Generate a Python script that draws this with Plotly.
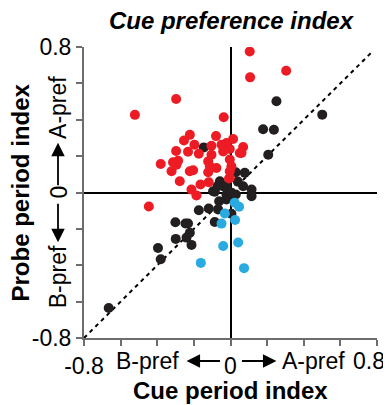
import plotly.graph_objects as go

red_x = [-0.522, -0.297, -0.037, -0.222, -0.254, -0.079, 0.014, -0.197, -0.297, -0.232, -0.173, -0.104, -0.049, -0.022, -0.004, -0.040, -0.104, -0.381, -0.314, -0.286, -0.295, -0.322, -0.222, -0.204, -0.122, -0.113, -0.077, -0.122, -0.004, 0.005, -0.004, -0.004, -0.277, -0.164, -0.119, -0.213, -0.186, 0.051, -0.446, 0.105, 0.107, 0.304, 0.069, 0.060, -0.008]
red_y = [0.427, 0.514, 0.414, 0.317, 0.286, 0.310, 0.294, 0.263, 0.228, 0.224, 0.213, 0.257, 0.263, 0.272, 0.239, 0.226, 0.208, 0.157, 0.166, 0.175, 0.153, 0.117, 0.117, 0.122, 0.171, 0.144, 0.135, 0.111, 0.181, 0.144, 0.117, 0.080, 0.062, 0.044, 0.056, 0.016, -0.016, 0.217, -0.077, 0.775, 0.633, 0.669, 0.250, 0.217, 0.077]

black_x = [0.251, 0.501, 0.178, 0.237, 0.206, 0.078, 0.029, 0.069, 0.115, 0.115, 0.029, -0.040, -0.146, -0.058, -0.022, -0.086, -0.095, -0.022, -0.062, -0.022, 0.014, -0.119, -0.173, -0.068, 0.005, -0.086, -0.301, -0.246, -0.232, -0.222, -0.240, -0.299, -0.213, -0.396, -0.381, -0.665, 0.000, 0.040, -0.070]
black_y = [0.502, 0.428, 0.348, 0.345, 0.208, 0.108, 0.111, 0.034, 0.016, -0.020, -0.011, 0.034, 0.248, 0.062, 0.034, 0.004, 0.007, -0.011, -0.048, -0.038, -0.020, -0.088, -0.098, -0.093, -0.117, -0.162, -0.164, -0.170, -0.170, -0.221, -0.248, -0.255, -0.288, -0.305, -0.367, -0.635, 0.000, 0.060, 0.035]

blue_x = [0.023, 0.047, -0.031, 0.025, -0.049, 0.042, -0.040, 0.074, -0.162]
blue_y = [-0.056, -0.078, -0.115, -0.151, -0.171, -0.275, -0.294, -0.416, -0.387]

tick_vals = [-0.8, -0.6, -0.4, -0.2, 0, 0.2, 0.4, 0.6, 0.8]
x_tick_text = ["-0.8", "", "", "", "0", "", "", "", ""]
x_end_label = "0.8"
y_tick_text = ["-0.8", "", "", "", "", "", "", "", "0.8"]
diag_x = [-0.8, 0.78]
diag_y = [-0.8, 0.78]

FONT = "Liberation Sans, Arial, sans-serif"
TS = 23
fig = go.Figure()
fig.add_trace(go.Scatter(x=diag_x, y=diag_y, mode="lines",
                         line=dict(color="black", width=2, dash="4px,4px"), hoverinfo="skip"))
fig.add_trace(go.Scatter(x=black_x, y=black_y, mode="markers",
                         marker=dict(color="#231F20", size=10, line=dict(width=0))))
fig.add_trace(go.Scatter(x=blue_x, y=blue_y, mode="markers",
                         marker=dict(color="#29ABE2", size=10, line=dict(width=0))))
fig.add_trace(go.Scatter(x=red_x, y=red_y, mode="markers",
                         marker=dict(color="#ED1C24", size=10, line=dict(width=0))))

axis_common = dict(range=[-0.8, 0.8], tickvals=tick_vals, showgrid=False, automargin=False,
                   zeroline=True, zerolinecolor="black", zerolinewidth=2,
                   showline=True, linecolor="#6d6d6d", linewidth=2,
                   ticks="outside", ticklen=6, tickwidth=1.5, tickcolor="#6d6d6d",
                   ticklabeloverflow="allow",
                   tickfont=dict(size=TS, color="black", family=FONT))

fig.update_layout(
    width=383, height=397,
    margin=dict(l=76, r=14, t=39, b=67),
    plot_bgcolor="white", paper_bgcolor="white",
    showlegend=False,
    title=dict(text="<b><i>Cue preference index</i></b>", x=223/383, xanchor="center",
               y=1 - 4/397, yanchor="top", pad=dict(t=0, b=0),
               font=dict(size=24, color="black", family=FONT)),
    xaxis=dict(**axis_common, ticktext=x_tick_text),
    yaxis=dict(**axis_common, ticktext=y_tick_text),
)

title_font = dict(size=24, color="black", family=FONT)
fig.add_annotation(text="<b>Cue period index</b>", x=0.5, y=0, xref="paper", yref="paper",
                   yshift=-52, showarrow=False, font=title_font, yanchor="middle")
fig.add_annotation(text="<b>Probe period index</b>", x=0, y=0.5, xref="paper", yref="paper",
                   xshift=-64, showarrow=False, font=title_font, textangle=-90, xanchor="center")

lab_font = dict(size=TS, color="black", family=FONT)
arrow_style = dict(showarrow=True, arrowhead=2, arrowsize=1.5, arrowwidth=1.8, arrowcolor="black")
# right end x tick label, kept inside the page
fig.add_annotation(text=x_end_label, x=0.8, y=0, xref="x", yref="paper", yshift=-23,
                   xshift=10, xanchor="right", showarrow=False, font=lab_font, yanchor="middle")
# x-axis side labels
fig.add_annotation(text="B-pref", x=-0.455, y=0, xref="x", yref="paper", yshift=-23,
                   showarrow=False, font=lab_font, yanchor="middle")
fig.add_annotation(text="A-pref", x=0.455, y=0, xref="x", yref="paper", yshift=-23,
                   showarrow=False, font=lab_font, yanchor="middle")
fig.add_annotation(text="", x=-0.240, y=0, xref="x", yref="paper", yshift=-23,
                   ax=35, ay=0, **arrow_style)
fig.add_annotation(text="", x=0.251, y=0, xref="x", yref="paper", yshift=-23,
                   ax=-36, ay=0, **arrow_style)
# y-axis side labels
fig.add_annotation(text="A-pref", x=0, y=0.465, xref="paper", yref="y", xshift=-26,
                   showarrow=False, font=lab_font, textangle=-90, xanchor="center")
fig.add_annotation(text="B-pref", x=0, y=-0.466, xref="paper", yref="y", xshift=-26,
                   showarrow=False, font=lab_font, textangle=-90, xanchor="center")
fig.add_annotation(text="0", x=0, y=0, xref="paper", yref="y", xshift=-26,
                   showarrow=False, font=lab_font, textangle=-90, xanchor="center")
fig.add_annotation(text="", x=0, y=0.274, xref="paper", yref="y", xshift=-26,
                   ax=0, ay=44, **arrow_style)
fig.add_annotation(text="", x=0, y=-0.274, xref="paper", yref="y", xshift=-26,
                   ax=0, ay=-40, **arrow_style)

fig.write_html("out.html")
